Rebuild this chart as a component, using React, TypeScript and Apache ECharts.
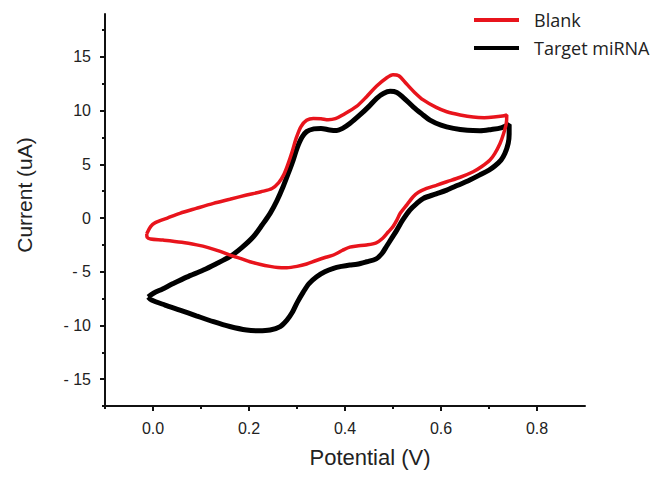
import React, { useEffect, useRef } from "react";
import * as echarts from "echarts";

const xMajorTicks = [0, 0.2, 0.4, 0.6, 0.8];
const xMinorTicks = [-0.1, 0.1, 0.3, 0.5, 0.7];
const yMajorTicks = [-15, -10, -5, 0, 5, 10, 15];
const yMinorTicks = [-17.5, -12.5, -7.5, -2.5, 2.5, 7.5, 12.5, 17.5];

const seriesNames = ["Blank", "Target miRNA"];

const blankCurve: [number, number][] = [
  [-0.013, -1.45], [-0.005, -0.8], [0.004, -0.45], [0.03, 0.0], [0.056, 0.44],
  [0.09, 0.9], [0.126, 1.37], [0.16, 1.75], [0.195, 2.14], [0.225, 2.45],
  [0.248, 2.75], [0.262, 3.3], [0.272, 4.0], [0.281, 5.0], [0.29, 6.2],
  [0.298, 7.4], [0.308, 8.5], [0.32, 9.1], [0.334, 9.28], [0.35, 9.25],
  [0.365, 9.15], [0.38, 9.25], [0.395, 9.6], [0.424, 10.4], [0.445, 11.3],
  [0.466, 12.3], [0.485, 13.0], [0.5, 13.35], [0.512, 13.25], [0.528, 12.5],
  [0.545, 11.7], [0.563, 11.0], [0.59, 10.3], [0.612, 9.9], [0.64, 9.6],
  [0.667, 9.4], [0.69, 9.35], [0.71, 9.4], [0.728, 9.5], [0.737, 9.6],
  [0.736, 8.8], [0.73, 7.8], [0.723, 6.95], [0.712, 6.0], [0.702, 5.4],
  [0.685, 4.8], [0.667, 4.31], [0.64, 3.8], [0.612, 3.38], [0.59, 3.05],
  [0.57, 2.76], [0.553, 2.4], [0.542, 1.98], [0.53, 1.3], [0.515, 0.44],
  [0.508, -0.19], [0.5, -0.8], [0.49, -1.3], [0.478, -1.9], [0.465, -2.3],
  [0.445, -2.5], [0.425, -2.6], [0.41, -2.7], [0.395, -3.0], [0.376, -3.44],
  [0.36, -3.65], [0.34, -3.95], [0.32, -4.28], [0.3, -4.5], [0.279, -4.62],
  [0.26, -4.6], [0.244, -4.5], [0.222, -4.3], [0.202, -4.07], [0.185, -3.8],
  [0.167, -3.55], [0.14, -3.1], [0.115, -2.75], [0.091, -2.5], [0.06, -2.25],
  [0.021, -2.05], [-0.005, -1.95], [-0.012, -1.8], [-0.013, -1.45],
];

const targetCurve: [number, number][] = [
  [-0.01, -7.35], [0.001, -7.0], [0.02, -6.6], [0.042, -6.1], [0.07, -5.5],
  [0.105, -4.84], [0.13, -4.3], [0.16, -3.6], [0.185, -2.75], [0.209, -1.74],
  [0.228, -0.6], [0.244, 0.44], [0.258, 1.6], [0.271, 2.91], [0.283, 4.3],
  [0.292, 5.4], [0.3, 6.5], [0.31, 7.5], [0.32, 8.05], [0.335, 8.3],
  [0.35, 8.35], [0.368, 8.2], [0.383, 8.15], [0.395, 8.35], [0.41, 8.8],
  [0.431, 9.6], [0.45, 10.4], [0.466, 11.15], [0.48, 11.6], [0.494, 11.8],
  [0.508, 11.7], [0.522, 11.2], [0.542, 10.36], [0.56, 9.7], [0.577, 9.12],
  [0.6, 8.65], [0.626, 8.35], [0.655, 8.17], [0.681, 8.13], [0.705, 8.25],
  [0.725, 8.4], [0.742, 8.7],
  [0.742, 7.8], [0.74, 6.95], [0.733, 6.0], [0.725, 5.4], [0.712, 4.85],
  [0.7, 4.47], [0.68, 4.0], [0.66, 3.54], [0.635, 3.05], [0.612, 2.6],
  [0.59, 2.25], [0.563, 1.83], [0.548, 1.3], [0.535, 0.74], [0.52, -0.2],
  [0.508, -1.12], [0.497, -1.9], [0.487, -2.6], [0.477, -3.3], [0.465, -3.8],
  [0.445, -4.07], [0.425, -4.3], [0.41, -4.37], [0.393, -4.5], [0.376, -4.68],
  [0.358, -5.0], [0.341, -5.46], [0.325, -6.1], [0.313, -6.9], [0.3, -7.9],
  [0.29, -8.8], [0.279, -9.5], [0.265, -10.1], [0.244, -10.43], [0.22, -10.5],
  [0.195, -10.43], [0.16, -10.1], [0.126, -9.65], [0.09, -9.1], [0.056, -8.57],
  [0.025, -8.1], [-0.003, -7.63], [-0.01, -7.35],
];

const fmtY = (v: number) => (v < 0 ? "- " + Math.abs(v) : String(v));

export default function App() {
  const ref = useRef<HTMLDivElement>(null);
  useEffect(() => {
    document.body.style.margin = "0";
    if (!ref.current) return;
    const chart = echarts.init(ref.current, undefined, { renderer: "svg" });
    const axisColor = "#111";
    const font = "'Liberation Sans', Arial, sans-serif";
    chart.setOption({
      animation: false,
      backgroundColor: "#fff",
      grid: { left: 105, right: 69, top: 14, bottom: 73, containLabel: false },
      legend: {
        orient: "vertical",
        left: 469,
        top: 4,
        data: seriesNames,
        icon: "rect",
        itemWidth: 45,
        itemHeight: 4,
        itemGap: 6,
        textStyle: {
          fontFamily: "'Open Sans', 'Noto Sans', sans-serif",
          fontSize: 18,
          lineHeight: 22,
          color: "#222",
          padding: [0, 0, 0, 10],
        },
      },
      xAxis: [
        {
          type: "value",
          min: -0.1,
          max: 0.9,
          position: "bottom",
          name: "Potential (V)",
          nameLocation: "middle",
          nameGap: 40,
          nameTextStyle: { fontFamily: font, fontSize: 22, color: "#222", padding: [0, 0, 0, 50] },
          axisLine: { show: true, onZero: false, lineStyle: { color: axisColor, width: 2 } },
          axisTick: { show: true, customValues: xMajorTicks, length: 5, lineStyle: { color: axisColor, width: 2 } },
          axisLabel: {
            customValues: xMajorTicks,
            formatter: (v: number) => v.toFixed(1),
            fontFamily: font,
            fontSize: 16,
            color: "#222",
            margin: 14,
          },
          splitLine: { show: false },
        },
        {
          type: "value",
          min: -0.1,
          max: 0.9,
          position: "bottom",
          axisLine: { show: false, onZero: false },
          axisTick: { show: true, customValues: xMinorTicks, length: 3, lineStyle: { color: axisColor, width: 2 } },
          axisLabel: { show: false },
          splitLine: { show: false },
        },
      ],
      yAxis: [
        {
          type: "value",
          min: -17.5,
          max: 19,
          position: "left",
          name: "Current (uA)",
          nameLocation: "middle",
          nameGap: 70,
          nameTextStyle: { fontFamily: font, fontSize: 21, color: "#222", padding: [0, 0, 0, 30] },
          axisLine: { show: true, onZero: false, lineStyle: { color: axisColor, width: 2 } },
          axisTick: { show: true, customValues: yMajorTicks, length: 5, lineStyle: { color: axisColor, width: 2 } },
          axisLabel: {
            customValues: yMajorTicks,
            formatter: fmtY,
            fontFamily: font,
            fontSize: 16,
            color: "#222",
            margin: 14,
          },
          splitLine: { show: false },
        },
        {
          type: "value",
          min: -17.5,
          max: 19,
          position: "left",
          axisLine: { show: false, onZero: false },
          axisTick: { show: true, customValues: yMinorTicks, length: 3, lineStyle: { color: axisColor, width: 2 } },
          axisLabel: { show: false },
          splitLine: { show: false },
        },
      ],
      series: [
        {
          name: seriesNames[1],
          type: "line",
          xAxisIndex: 0,
          yAxisIndex: 0,
          data: targetCurve,
          showSymbol: false,
          smooth: 0.3,
          color: "#000",
          lineStyle: { color: "#000", width: 5 },
          z: 2,
        },
        {
          name: seriesNames[0],
          type: "line",
          xAxisIndex: 0,
          yAxisIndex: 0,
          data: blankCurve,
          showSymbol: false,
          smooth: 0.3,
          color: "#e8141c",
          lineStyle: { color: "#e8141c", width: 3.5 },
          z: 3,
        },
      ],
    });
    return () => chart.dispose();
  }, []);
  return <div ref={ref} style={{ width: 654, height: 479 }} />;
}
